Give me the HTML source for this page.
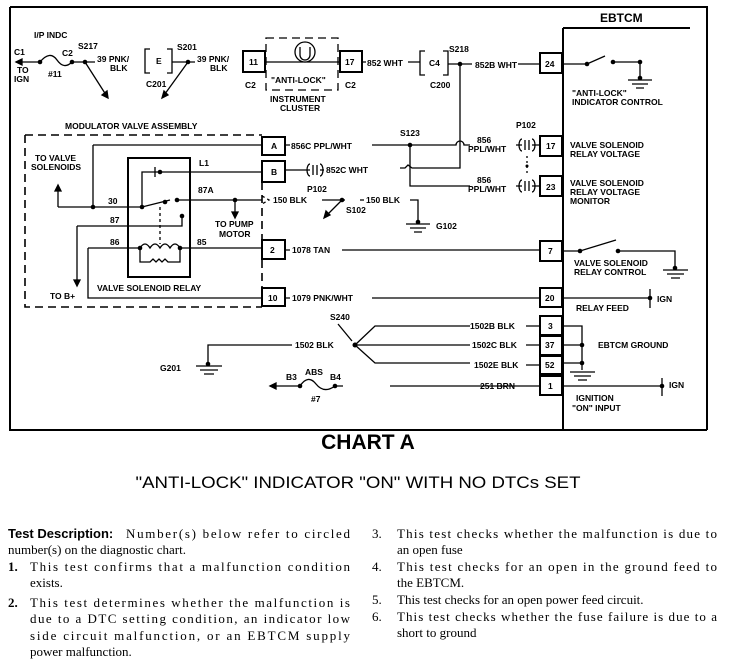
<!DOCTYPE html>
<html><head><meta charset="utf-8"><style>
html,body{margin:0;padding:0;background:#fff}
svg{display:block}
.l{font-family:"Liberation Sans",sans-serif;font-weight:bold;font-size:8.5px;fill:#000}
.s{font-family:"Liberation Serif",serif;font-size:13px;fill:#000}
</style></head><body>
<svg width="736" height="662" viewBox="0 0 736 662" xmlns="http://www.w3.org/2000/svg">
<g stroke="#000" fill="none" stroke-width="1.3">
<path d="M10 7 H707 V430 M10 7 V430 H707" stroke-width="2"/>
<path d="M563 28 V430 M563 28 H690" stroke-width="2"/>
<path d="M16 62 H40 Q50 50 57 60 T72 62 H95"/>
<path d="M16 62 l6 -3 v6 z" fill="#000"/>
<path d="M85 62 L108 98"/><path d="M108 98 l-1 -7 l-5 4 z" fill="#000"/>
<path d="M150 49 h-5 v24 h5 M167 49 h5 v24 h-5"/>
<path d="M172 62 H195 M188 62 L162 98"/><path d="M162 98 l2 -7 l4 4 z" fill="#000"/>
<rect x="243" y="51" width="22" height="21" stroke-width="2"/>
<path d="M265 62 H340"/>
<rect x="266" y="38" width="72" height="52" stroke-dasharray="8 5"/>
<circle cx="305" cy="52" r="10" fill="#fff"/>
<path d="M300 47 v8 a5 5 0 0 0 10 0 v-8"/>
<rect x="340" y="51" width="22" height="21" stroke-width="2"/>
<path d="M362 62 H366 M408 62 H420"/>
<path d="M425 51 h-5 v24 h5 M443 51 h5 v24 h-5"/>
<path d="M448 64 H472 M518 64 H540"/>
<rect x="540" y="53" width="22" height="20" stroke-width="2"/>
<path d="M562 64 H587 L605 56 M613 62 H640 V78 M628 80 H652 M632 84 H648 M636 88 H644"/>
<path d="M460 64 V168 H412 l-4 -3 l-3 3 H400"/>
<path d="M412 145 H456 a4 4 0 0 1 8 0 H470 M516 145 H522"/>
<path d="M410 145 V186 H470 M516 186 H522"/>
<path d="M522 139 a3 6 0 0 0 0 12 M532 139 a3 6 0 0 1 0 12 M525 140 v10 M529 140 v10 M532 145 H540"/>
<path d="M522 180 a3 6 0 0 0 0 12 M532 180 a3 6 0 0 1 0 12 M525 181 v10 M529 181 v10 M532 186 H540"/>
<path d="M527 156 V176" stroke-dasharray="2 3"/>
<rect x="540" y="136" width="22" height="20" stroke-width="2"/>
<rect x="540" y="176" width="22" height="20" stroke-width="2"/>
<path d="M25 135 V307 H262 M25 135 H262 M262 182 V300" stroke-dasharray="8 5" stroke-width="1.6"/>
<rect x="262" y="137" width="23" height="18" stroke-width="2"/>
<rect x="262" y="161" width="23" height="21" stroke-width="2"/>
<rect x="262" y="240" width="23" height="19" stroke-width="2"/>
<rect x="262" y="288" width="23" height="18" stroke-width="2"/>
<path d="M285 145 H290 M372 145 H410"/>
<path d="M285 170 H310 M310 164 a3 6 0 0 0 0 12 M320 164 a3 6 0 0 1 0 12 M313 165 v10 M317 165 v10 M320 170 H324"/>
<path d="M93 145 H262 M93 145 V207"/>
<rect x="128" y="158" width="62" height="119" stroke-width="2"/>
<path d="M142 207 V172 H262 M155 167 v10"/>
<path d="M58 207 H142 L170 200 M58 207 V187"/><path d="M58 185 l-3 6 h6 z" fill="#000"/>
<path d="M177 200 H262 M235 200 V214"/><path d="M235 218 l-3 -6 h6 z" fill="#000"/>
<path d="M262 196 l7 4 l-7 4 M160 207 V244" stroke-dasharray="3 3"/>
<path d="M77 226 H182 V216 M77 226 V282"/><path d="M77 286 l-3 -6 h6 z" fill="#000"/>
<path d="M88 248 H140 q5 -8 10 0 q5 -8 10 0 q5 -8 10 0 q5 -8 10 0 H262"/>
<path d="M140 248 V262 H150 l3 -3 l3 3 l3 -3 l3 3 l3 -3 l3 3 H180 V248"/>
<path d="M88 248 V298 H262"/>
<path d="M322 200 H345 M342 200 L326 216 M360 200 H364 M410 200 H418 V222 M406 224 H430 M410 228 H426 M414 232 H422"/><path d="M324 218 l2 -7 l4 4 z" fill="#000"/>
<path d="M285 250 H290 M342 250 H540"/>
<rect x="540" y="241" width="22" height="20" stroke-width="2"/>
<path d="M562 251 H580 L616 240 M618 251 H675 V268 M663 270 H688 M667 274 H684 M671 278 H680"/>
<path d="M285 298 H290 M372 298 H540"/>
<rect x="540" y="288" width="22" height="19" stroke-width="2"/>
<path d="M562 298 H650 M650 289 V308"/>
<rect x="540" y="316" width="22" height="19" stroke-width="2"/>
<rect x="540" y="336" width="22" height="19" stroke-width="2"/>
<rect x="540" y="356" width="22" height="18" stroke-width="2"/>
<rect x="540" y="376" width="22" height="19" stroke-width="2"/>
<path d="M562 326 H582 V370 M562 345 H582 M562 363 H582 M570 372 H595 M574 376 H591 M578 380 H587"/>
<path d="M355 345 L375 326 H470 M355 345 H470 M355 345 L375 363 H470 M526 326 H540 M526 345 H540 M526 365 H540"/>
<path d="M338 324 L352 341 M292 345 H208 V364 M196 366 H222 M200 370 H218 M204 374 H214"/>
<path d="M270 386 H300 Q308 374 316 384 T335 386 H343 M390 386 H540 M562 386 H662 M662 378 V396"/>
<path d="M270 386 l6 -3 v6 z" fill="#000"/>
</g>
<g fill="#000">
<circle cx="40" cy="62" r="2.3"/><circle cx="72" cy="62" r="2.3"/><circle cx="85" cy="62" r="2.3"/>
<circle cx="188" cy="62" r="2.3"/><circle cx="460" cy="64" r="2.3"/>
<circle cx="587" cy="64" r="2.3"/><circle cx="613" cy="62" r="2.3"/><circle cx="640" cy="62" r="2.3"/><circle cx="640" cy="78" r="2.3"/>
<circle cx="410" cy="145" r="2.3"/><circle cx="93" cy="207" r="2.3"/><circle cx="142" cy="207" r="2.3"/>
<circle cx="160" cy="172" r="2.3"/><circle cx="165" cy="202" r="2.3"/><circle cx="177" cy="200" r="2.3"/><circle cx="235" cy="200" r="2.3"/>
<circle cx="182" cy="216" r="2.3"/><circle cx="140" cy="248" r="2.3"/><circle cx="180" cy="248" r="2.3"/>
<circle cx="342" cy="200" r="2.3"/><circle cx="418" cy="222" r="2.3"/><circle cx="527" cy="166" r="1.5"/>
<circle cx="580" cy="251" r="2.3"/><circle cx="618" cy="251" r="2.3"/><circle cx="675" cy="268" r="2.3"/>
<circle cx="650" cy="298" r="2.3"/><circle cx="582" cy="345" r="2.3"/><circle cx="582" cy="363" r="2.3"/>
<circle cx="355" cy="345" r="2.5"/><circle cx="208" cy="364" r="2.3"/>
<circle cx="300" cy="386" r="2.3"/><circle cx="335" cy="386" r="2.3"/><circle cx="662" cy="386" r="2.3"/>
</g>
<g class="l">
<text x="34" y="38">I/P INDC</text><text x="14" y="55">C1</text><text x="62" y="56">C2</text><text x="78" y="49">S217</text>
<text x="17" y="73">TO</text><text x="14" y="82">IGN</text><text x="48" y="77">#11</text>
<text x="97" y="62">39 PNK/</text><text x="110" y="71">BLK</text>
<text x="156" y="64">E</text><text x="146" y="87">C201</text><text x="177" y="50">S201</text>
<text x="197" y="62">39 PNK/</text><text x="210" y="71">BLK</text>
<text x="249" y="65">11</text><text x="345" y="65">17</text>
<text x="245" y="88">C2</text><text x="345" y="88">C2</text>
<text x="271" y="83">"ANTI-LOCK"</text>
<text x="270" y="102">INSTRUMENT</text><text x="280" y="111">CLUSTER</text>
<text x="367" y="66">852 WHT</text><text x="429" y="66">C4</text><text x="430" y="88">C200</text><text x="449" y="52">S218</text>
<text x="475" y="68">852B WHT</text><text x="545" y="67">24</text>
<text x="572" y="96">"ANTI-LOCK"</text><text x="572" y="105">INDICATOR CONTROL</text>
<text x="65" y="129">MODULATOR VALVE ASSEMBLY</text>
<text x="271" y="149">A</text><text x="271" y="175">B</text><text x="270" y="253">2</text><text x="268" y="301">10</text>
<text x="291" y="149">856C PPL/WHT</text><text x="400" y="136">S123</text>
<text x="477" y="143">856</text><text x="468" y="152">PPL/WHT</text><text x="516" y="128">P102</text>
<text x="546" y="149">17</text><text x="570" y="148">VALVE SOLENOID</text><text x="570" y="157">RELAY VOLTAGE</text>
<text x="326" y="173">852C WHT</text>
<text x="477" y="183">856</text><text x="468" y="192">PPL/WHT</text>
<text x="546" y="190">23</text><text x="570" y="186">VALVE SOLENOID</text><text x="570" y="195">RELAY VOLTAGE</text><text x="570" y="204">MONITOR</text>
<text x="35" y="161">TO VALVE</text><text x="31" y="170">SOLENOIDS</text>
<text x="199" y="166">L1</text><text x="198" y="193">87A</text><text x="108" y="204">30</text>
<text x="110" y="223">87</text><text x="110" y="245">86</text><text x="197" y="245">85</text>
<text x="215" y="227">TO PUMP</text><text x="219" y="237">MOTOR</text>
<text x="273" y="203">150 BLK</text><text x="307" y="192">P102</text><text x="346" y="213">S102</text>
<text x="366" y="203">150 BLK</text><text x="436" y="229">G102</text>
<text x="292" y="253">1078 TAN</text><text x="548" y="254">7</text>
<text x="574" y="266">VALVE SOLENOID</text><text x="574" y="275">RELAY CONTROL</text>
<text x="97" y="291">VALVE SOLENOID RELAY</text><text x="50" y="299">TO B+</text>
<text x="292" y="301">1079 PNK/WHT</text><text x="545" y="301">20</text>
<text x="657" y="302">IGN</text><text x="576" y="311">RELAY FEED</text>
<text x="330" y="320">S240</text>
<text x="470" y="329">1502B BLK</text><text x="548" y="329">3</text>
<text x="295" y="348">1502 BLK</text><text x="472" y="348">1502C BLK</text><text x="545" y="348">37</text>
<text x="598" y="348">EBTCM GROUND</text>
<text x="474" y="368">1502E BLK</text><text x="545" y="368">52</text>
<text x="160" y="371">G201</text>
<text x="286" y="380">B3</text><text x="305" y="375">ABS</text><text x="330" y="380">B4</text><text x="311" y="402">#7</text>
<text x="480" y="389">251 BRN</text><text x="548" y="389">1</text><text x="669" y="388">IGN</text>
<text x="576" y="401">IGNITION</text><text x="572" y="411">"ON" INPUT</text>
</g>
<text x="600" y="22" font-family="Liberation Sans,sans-serif" font-size="12" font-weight="bold">EBTCM</text>
<text x="368" y="449" text-anchor="middle" font-family="Liberation Sans,sans-serif" font-size="21" font-weight="bold">CHART A</text>
<text x="358" y="488" text-anchor="middle" font-family="Liberation Sans,sans-serif" font-size="17" textLength="445" lengthAdjust="spacingAndGlyphs">"ANTI-LOCK" INDICATOR "ON" WITH NO DTCs SET</text>
<text x="8" y="538" font-family="Liberation Sans,sans-serif" font-size="13" font-weight="bold">Test Description:</text>
<g class="s">
<text x="126" y="538" textLength="224">Number(s) below refer to circled</text>
<text x="8" y="554">number(s) on the diagnostic chart.</text>
<text x="8" y="571" font-weight="bold">1.</text><text x="30" y="571" textLength="320">This test confirms that a malfunction condition</text>
<text x="30" y="587">exists.</text>
<text x="8" y="607" font-weight="bold">2.</text><text x="30" y="607" textLength="320">This test determines whether the malfunction is</text>
<text x="30" y="623" textLength="320">due to a DTC setting condition, an indicator low</text>
<text x="30" y="640" textLength="320">side circuit malfunction, or an EBTCM supply</text>
<text x="30" y="656">power malfunction.</text>
<text x="372" y="538">3.</text><text x="397" y="538" textLength="320">This test checks whether the malfunction is due to</text>
<text x="397" y="554">an open fuse</text>
<text x="372" y="571">4.</text><text x="397" y="571" textLength="320">This test checks for an open in the ground feed to</text>
<text x="397" y="587">the EBTCM.</text>
<text x="372" y="604">5.</text><text x="397" y="604">This test checks for an open power feed circuit.</text>
<text x="372" y="621">6.</text><text x="397" y="621" textLength="320">This test checks whether the fuse failure is due to a</text>
<text x="397" y="637">short to ground</text>
</g>
</svg>
</body></html>
